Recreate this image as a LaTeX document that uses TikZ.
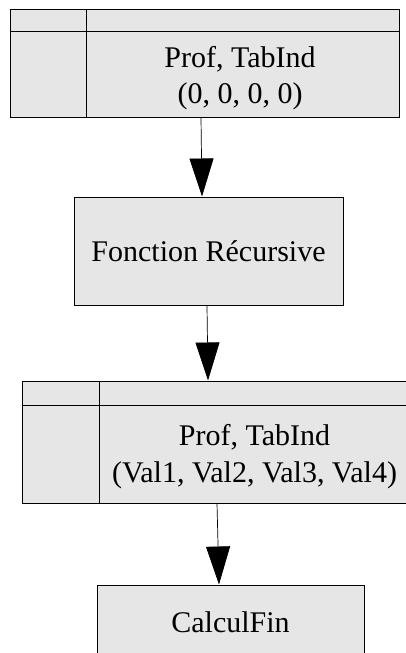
\documentclass[tikz,border=0pt]{standalone}
\usepackage{fontspec}
\setmainfont{Liberation Serif}
\usetikzlibrary{arrows.meta}
\definecolor{boxgray}{HTML}{E6E6E6}

\begin{document}
\begin{tikzpicture}[x=1pt,y=-1pt,
  box/.style={draw=black, fill=boxgray, line width=1pt, inner sep=0pt, font=\fontsize{30}{36}\selectfont},
  lbl/.style={align=center, inner sep=0pt, font=\fontsize{30}{36.5}\selectfont},
  arr/.style={draw=black, line width=0.7pt, -{Triangle[length=38pt,width=24pt]}}]
\useasboundingbox (0,0) rectangle (406,653);
\clip (0,0) rectangle (406,653);
\fill[white] (0,0) rectangle (406,653);
\node[box, minimum width=389pt, minimum height=108pt] (init) at (204.5,63) {};
\draw[line width=1pt] (86,9) -- (86,117);
\draw[line width=1pt] (10,31) -- (399,31);
\node[lbl] (initlbl) at (240,78) {Prof, TabInd\\(0, 0, 0, 0)};
\node[box, minimum width=269pt, minimum height=108pt] (rec) at (208.5,251) {Fonction Récursive};
\node[box, minimum width=388pt, minimum height=122pt] (res) at (216,442) {};
\draw[line width=1pt] (99,381) -- (99,503);
\draw[line width=1pt] (22,405) -- (410,405);
\node[lbl] (reslbl) at (254.5,456.5) {Prof, TabInd\\(Val1, Val2, Val3, Val4)};
\node[box, minimum width=267pt, minimum height=75pt] (fin) at (230.5,622.5) {CalculFin};
\draw[arr] ([xshift=-3.5pt]init.south) -- ([xshift=-6.5pt]rec.north);
\draw[arr] ([xshift=-1.5pt]rec.south) -- ([xshift=-8pt]res.north);
\draw[arr] ([xshift=1pt]res.south) -- ([xshift=-11.5pt]fin.north);
\end{tikzpicture}
\end{document}
